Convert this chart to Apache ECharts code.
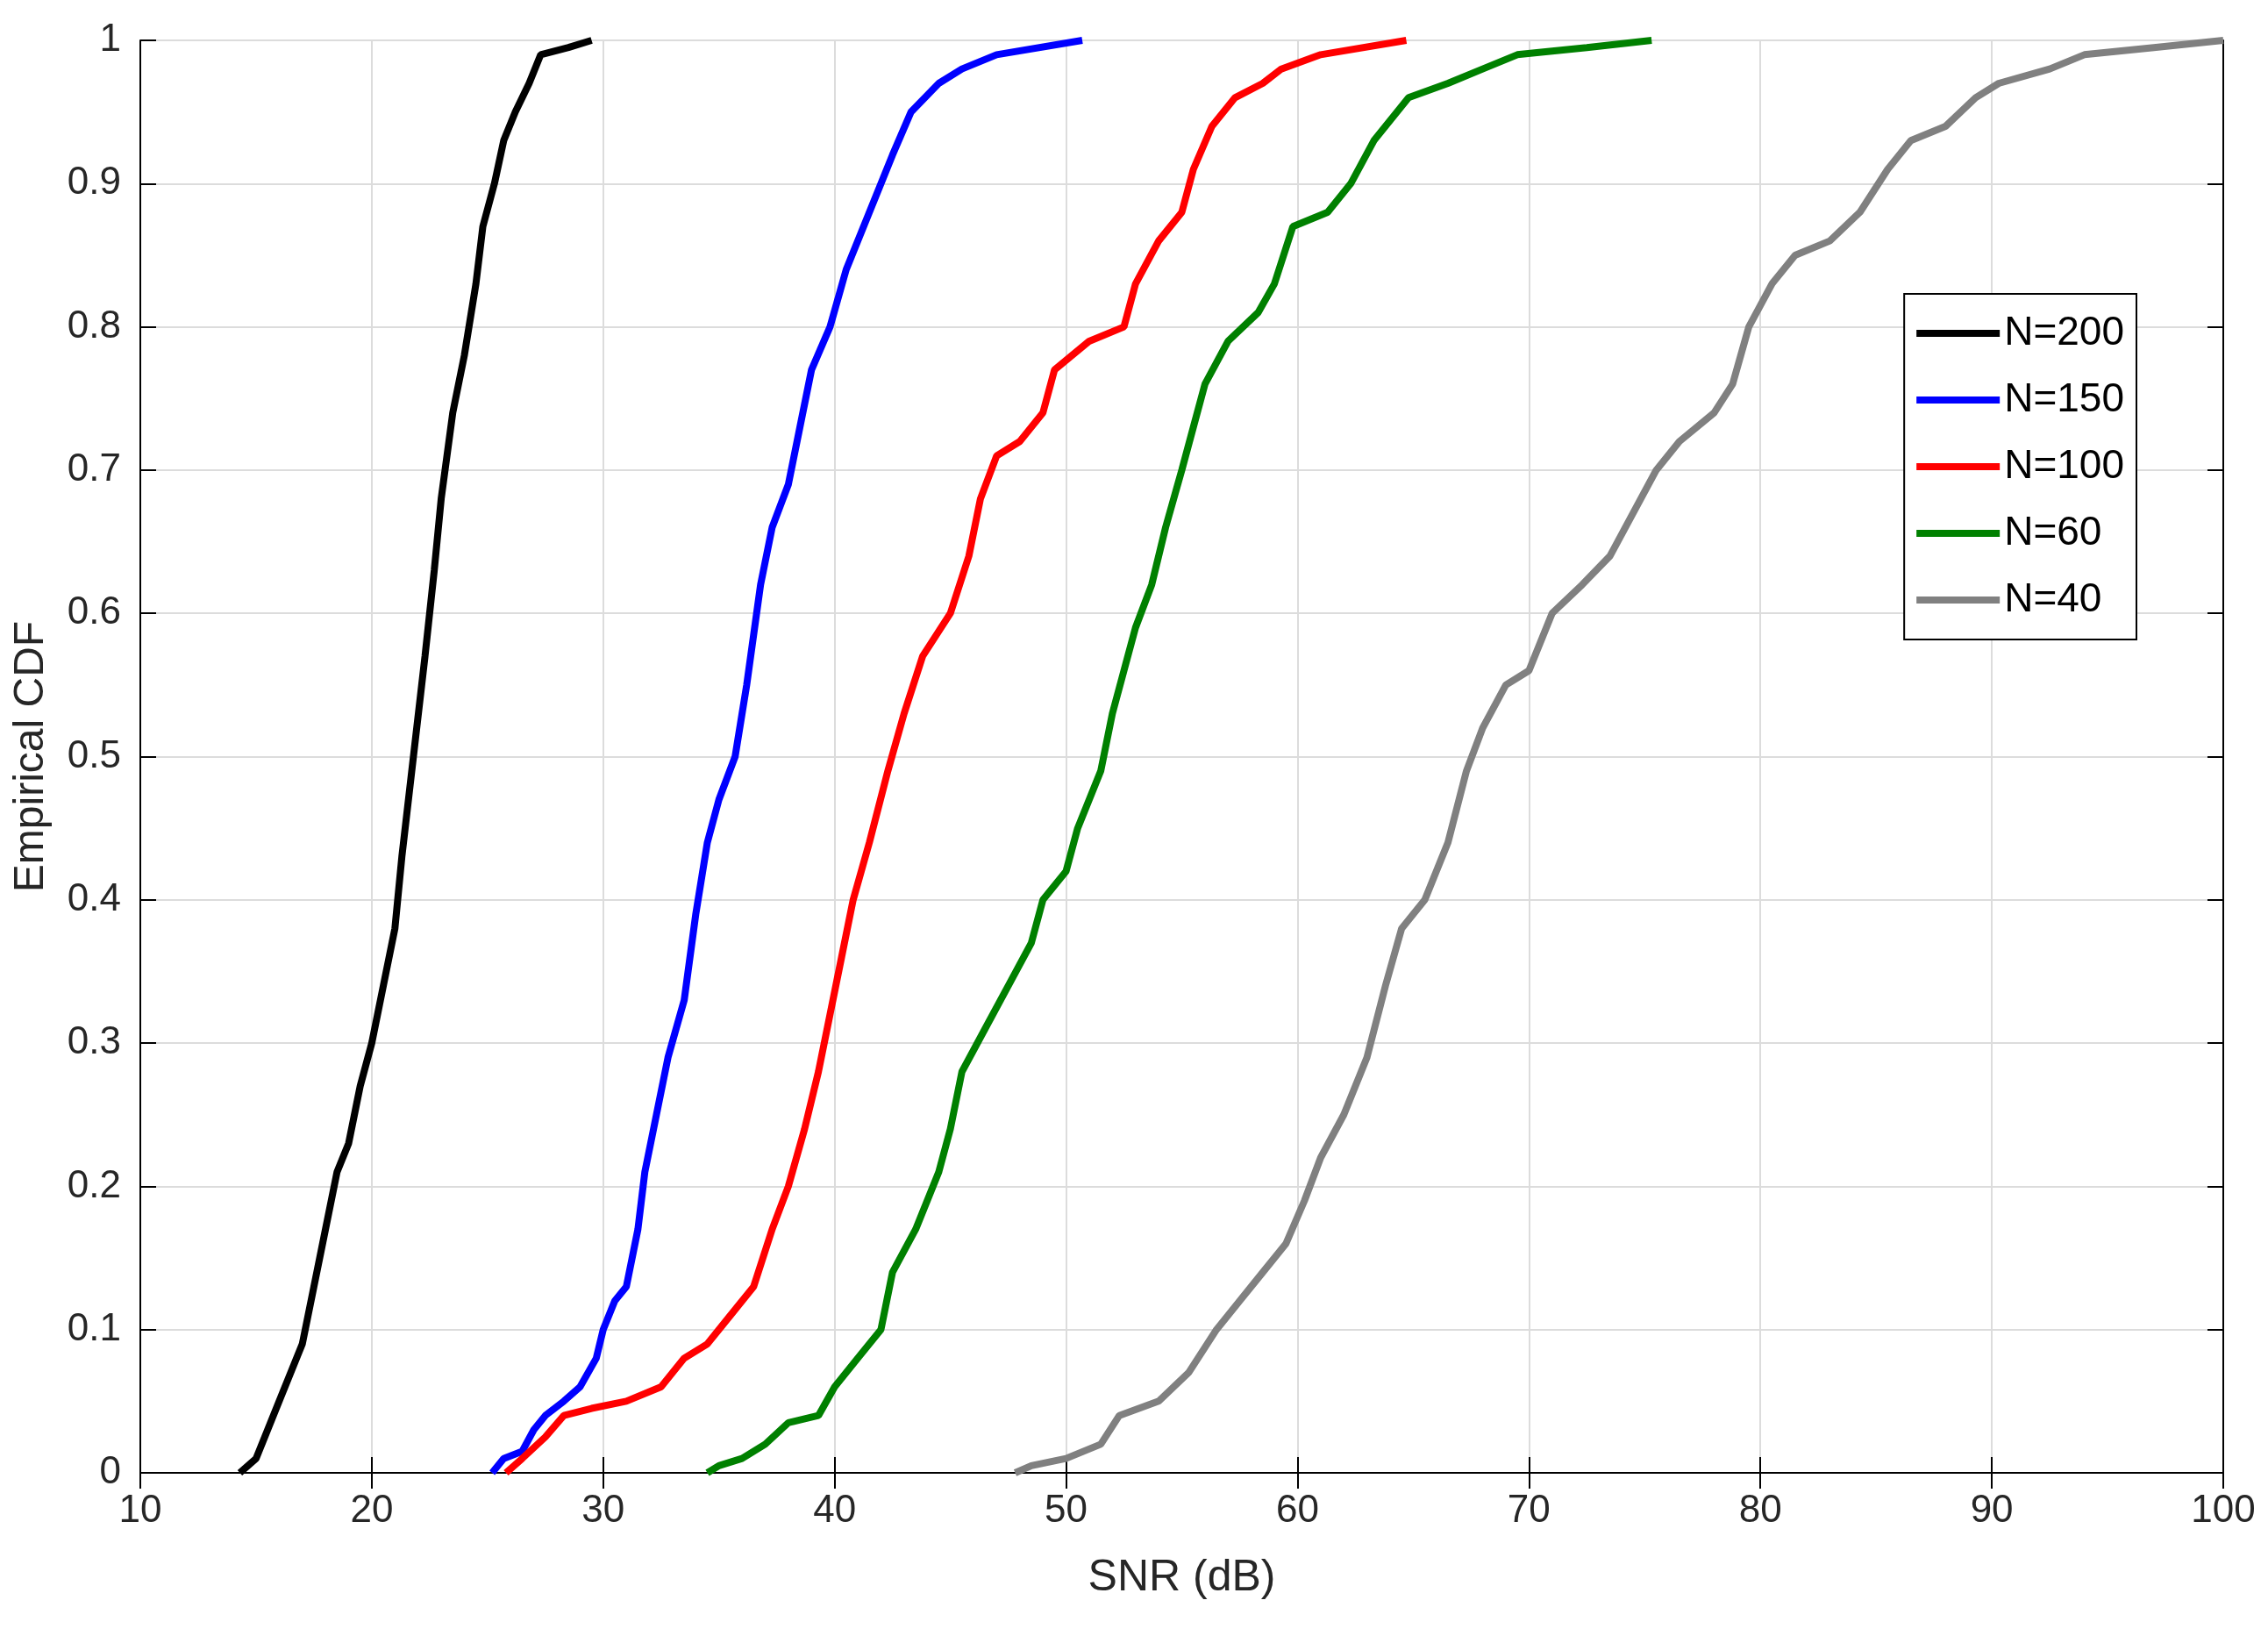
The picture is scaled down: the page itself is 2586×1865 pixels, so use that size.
<!DOCTYPE html>
<html>
<head>
<meta charset="UTF-8">
<script src="https://cdn.jsdelivr.net/npm/echarts@6/dist/echarts.min.js"></script>
</head>
<body style="margin:0;background:#fff;">
<div id="chart" style="width:2586px;height:1865px;"></div>
<script>
var xTicks = [10,20,30,40,50,60,70,80,90,100];
var yTicks = [0,0.1,0.2,0.3,0.4,0.5,0.6,0.7,0.8,0.9,1];
var names = ['N=200','N=150','N=100','N=60','N=40'];
var colors = ['#000000','#0000ff','#ff0000','#008000','#808080'];

var n200 = [[14.3,0],[15,0.01],[15.5,0.03],[16,0.05],[17,0.09],[17.5,0.13],[18,0.17],[18.5,0.21],[19,0.23],[19.5,0.27],[20,0.3],[20.5,0.34],[21,0.38],[21.3,0.43],[21.8,0.5],[22.3,0.57],[22.7,0.63],[23,0.68],[23.5,0.74],[24,0.78],[24.5,0.83],[24.8,0.87],[25.3,0.9],[25.7,0.93],[26.2,0.95],[26.8,0.97],[27.3,0.99],[28.5,0.995],[29.5,1]];
var n150 = [[25.2,0],[25.7,0.01],[26.5,0.015],[27,0.03],[27.5,0.04],[28.3,0.05],[29,0.06],[29.7,0.08],[30,0.1],[30.5,0.12],[31,0.13],[31.5,0.17],[31.8,0.21],[32.3,0.25],[32.8,0.29],[33.5,0.33],[34,0.39],[34.5,0.44],[35,0.47],[35.7,0.5],[36.2,0.55],[36.8,0.62],[37.3,0.66],[38,0.69],[38.5,0.73],[39,0.77],[39.8,0.8],[40.5,0.84],[41.5,0.88],[42.5,0.92],[43.3,0.95],[44.5,0.97],[45.5,0.98],[47,0.99],[50.7,1]];
var n100 = [[25.8,0],[26.5,0.01],[27.5,0.025],[28.3,0.04],[29.5,0.045],[31,0.05],[32.5,0.06],[33.5,0.08],[34.5,0.09],[35.5,0.11],[36.5,0.13],[37.3,0.17],[38,0.2],[38.7,0.24],[39.3,0.28],[39.8,0.32],[40.3,0.36],[40.8,0.4],[41.5,0.44],[42.3,0.49],[43,0.53],[43.8,0.57],[45,0.6],[45.8,0.64],[46.3,0.68],[47,0.71],[48,0.72],[49,0.74],[49.5,0.77],[51,0.79],[52.5,0.8],[53,0.83],[54,0.86],[55,0.88],[55.5,0.91],[56.3,0.94],[57.3,0.96],[58.5,0.97],[59.3,0.98],[61,0.99],[64.7,1]];
var n60 = [[34.5,0],[35,0.005],[36,0.01],[37,0.02],[38,0.035],[39.3,0.04],[40,0.06],[41,0.08],[42,0.1],[42.5,0.14],[43.5,0.17],[44.5,0.21],[45,0.24],[45.5,0.28],[46.5,0.31],[47.5,0.34],[48.5,0.37],[49,0.4],[50,0.42],[50.5,0.45],[51.5,0.49],[52,0.53],[52.5,0.56],[53,0.59],[53.7,0.62],[54.3,0.66],[55,0.7],[55.5,0.73],[56,0.76],[57,0.79],[58.3,0.81],[59,0.83],[59.8,0.87],[61.3,0.88],[62.3,0.9],[63.3,0.93],[64.8,0.96],[66.5,0.97],[68,0.98],[69.5,0.99],[72.5,0.995],[75.3,1]];
var n40 = [[47.8,0],[48.5,0.005],[50,0.01],[51.5,0.02],[52.3,0.04],[54,0.05],[55.3,0.07],[56.5,0.1],[57.5,0.12],[58.5,0.14],[59.5,0.16],[60.3,0.19],[61,0.22],[62,0.25],[63,0.29],[63.8,0.34],[64.5,0.38],[65.5,0.4],[66.5,0.44],[67.3,0.49],[68,0.52],[69,0.55],[70,0.56],[71,0.6],[72.3,0.62],[73.5,0.64],[74.5,0.67],[75.5,0.7],[76.5,0.72],[78,0.74],[78.8,0.76],[79.5,0.8],[80.5,0.83],[81.5,0.85],[83,0.86],[84.3,0.88],[85.5,0.91],[86.5,0.93],[88,0.94],[89.3,0.96],[90.3,0.97],[92.5,0.98],[94,0.99],[97,0.995],[100,1]];
var allData = [n200,n150,n100,n60,n40];

var font = '"Liberation Sans", Arial, sans-serif';
var series = names.map(function(nm, i){
  return {name: nm, type:'line', data: allData[i], showSymbol:false,
    lineStyle:{color:colors[i], width:8}, itemStyle:{color:colors[i]}};
});
// mirrored axes give the box ticks on top and right
var opt = {
  animation:false,
  grid:{left:160, right:51, top:46, bottom:186},
  legend:{orient:'vertical', right:150, top:335, itemWidth:95, itemHeight:8, itemGap:30,
    padding:[22,14,22,14], borderColor:'#000', borderWidth:2, backgroundColor:'#fff',
    textStyle:{fontFamily:font, fontSize:46, color:'#000'},
    icon:'rect', data:names},
  xAxis:[{type:'value', min:10, max:100, interval:10, name:'SNR (dB)', nameLocation:'middle', nameGap:95,
    nameTextStyle:{fontFamily:font, fontSize:50, color:'#262626'},
    axisLine:{lineStyle:{color:'#000', width:2}}, axisTick:{inside:true, length:18, lineStyle:{color:'#000',width:2}},
    axisLabel:{fontFamily:font, fontSize:44, color:'#262626', margin:22},
    splitLine:{lineStyle:{color:'#dcdcdc', width:2}}},
   {type:'value', position:'top', min:10, max:100, interval:10, axisLine:{lineStyle:{color:'#000',width:2}},
    axisTick:{inside:true, length:18, lineStyle:{color:'#000',width:2}}, axisLabel:{show:false}, splitLine:{show:false}}],
  yAxis:[{type:'value', min:0, max:1, interval:0.1, name:'Empirical CDF', nameLocation:'middle', nameGap:100,
    nameTextStyle:{fontFamily:font, fontSize:48, color:'#262626'},
    axisLine:{show:true, lineStyle:{color:'#000', width:2}}, axisTick:{show:true, inside:true, length:18, lineStyle:{color:'#000',width:2}},
    axisLabel:{fontFamily:font, fontSize:44, color:'#262626', margin:22,
      formatter:function(v){return String(Math.round(v*10)/10);}},
    splitLine:{lineStyle:{color:'#dcdcdc', width:2}}},
   {type:'value', position:'right', min:0, max:1, interval:0.1, axisLine:{show:true, lineStyle:{color:'#000',width:2}},
    axisTick:{show:true, inside:true, length:18, lineStyle:{color:'#000',width:2}}, axisLabel:{show:false}, splitLine:{show:false}}],
  series: series
};
echarts.init(document.getElementById('chart')).setOption(opt);
</script>
</body>
</html>
